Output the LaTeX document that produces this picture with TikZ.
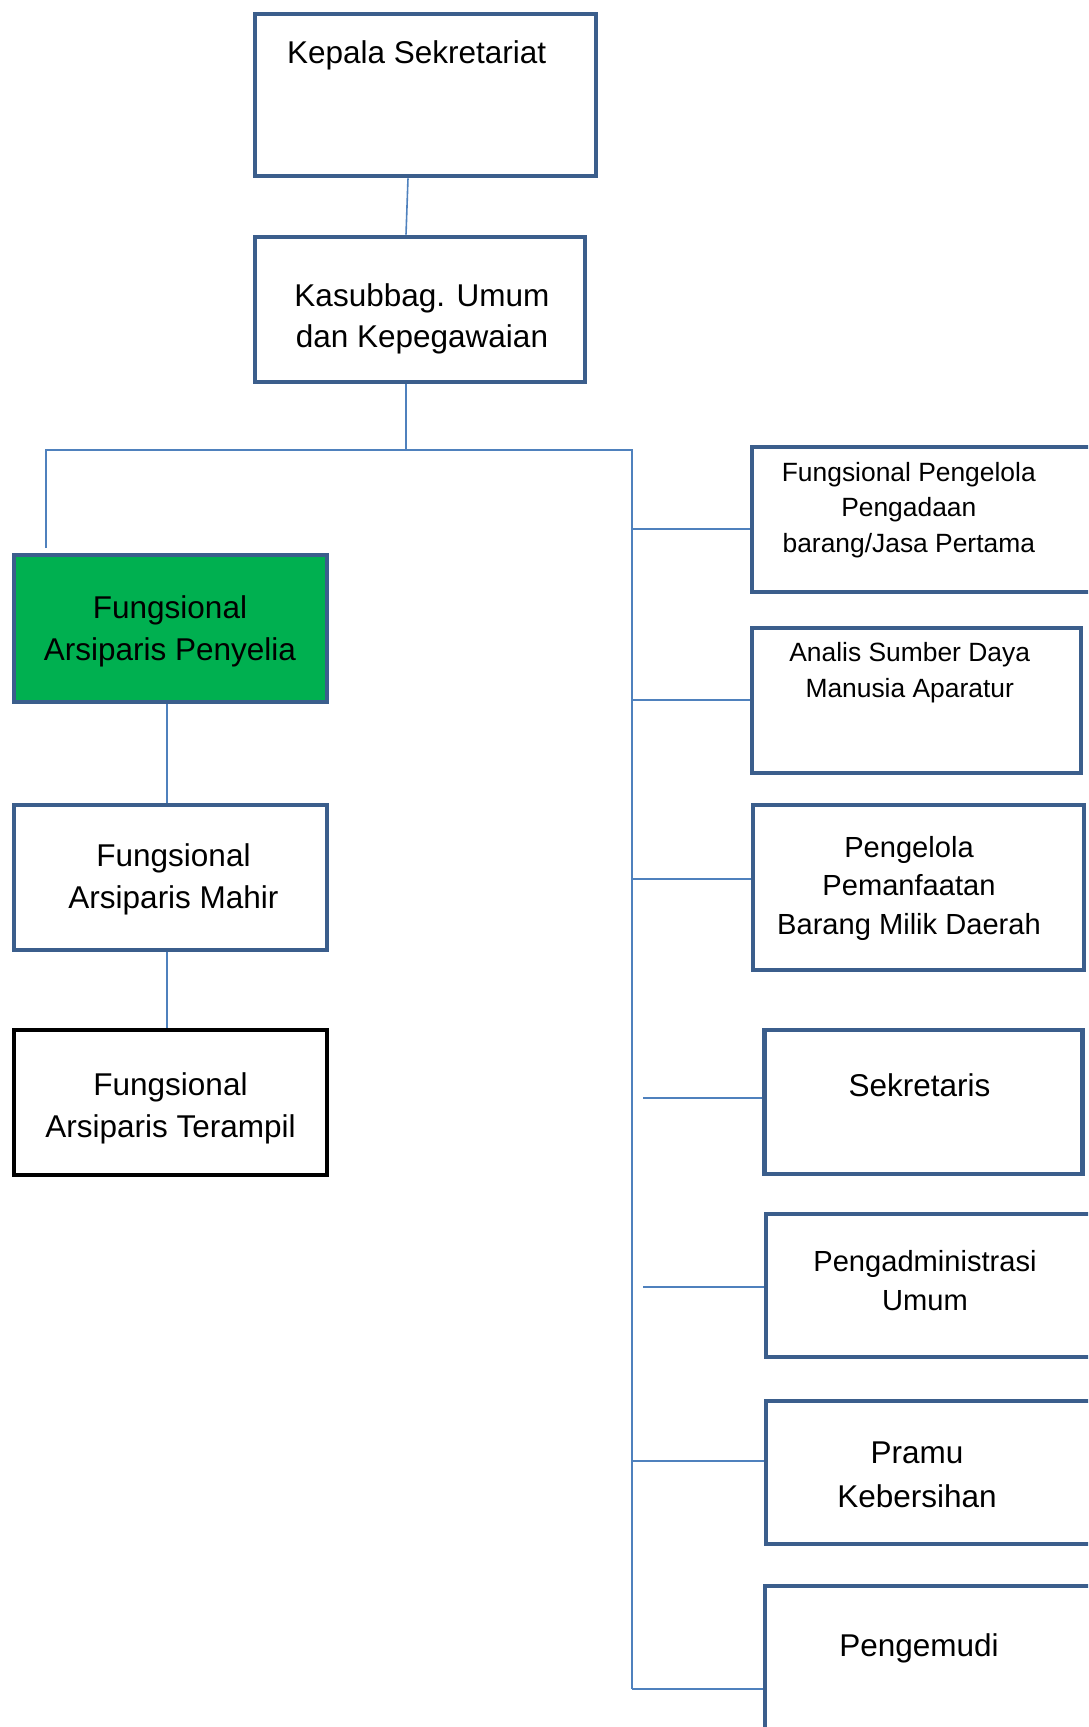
\documentclass[tikz,border=0pt]{standalone}
\usepackage{fontspec}
\setmainfont{Liberation Sans}
\definecolor{boxblue}{HTML}{3B5E8C}
\definecolor{linkblue}{HTML}{4F81BD}
\definecolor{officegreen}{HTML}{00B050}
\begin{document}
\begin{tikzpicture}[x=1pt,y=-1pt,
  box/.style={draw=boxblue, line width=4.6pt, rectangle, inner sep=0pt},
  link/.style={draw=linkblue, line width=1.6pt},
  txt/.style={anchor=north, inner sep=0pt, outer sep=0pt, align=center, text=black},
  fbig/.style={font=\fontsize{31.5}{42}\selectfont},
  fmid/.style={font=\fontsize{29.1}{38.5}\selectfont},
  fsmall/.style={font=\fontsize{26.4}{35.5}\selectfont}]
\useasboundingbox (0,0) rectangle (1088,1727);
\clip (0,0) rectangle (1088,1727);
% boxes
\node[box, minimum width=341pt, minimum height=162pt] (kepala) at (425.5,95) {};
\node[box, minimum width=330pt, minimum height=145pt] (kasub) at (420,309.5) {};
\node[box, fill=officegreen, minimum width=313pt, minimum height=147pt] (penyelia) at (170.5,628.5) {};
\node[box, minimum width=313pt, minimum height=145pt] (mahir) at (170.5,877.5) {};
\node[box, draw=black, minimum width=313pt, minimum height=145pt] (terampil) at (170.5,1102.5) {};
\node[box, minimum width=348pt, minimum height=145pt] (pbj) at (926,519.5) {};
\node[box, minimum width=329pt, minimum height=145pt] (sdm) at (916.5,700.5) {};
\node[box, minimum width=331pt, minimum height=165pt] (bmd) at (918.5,887.5) {};
\node[box, minimum width=318pt, minimum height=144pt] (sekr) at (923.5,1102) {};
\node[box, minimum width=334pt, minimum height=143pt] (adm) at (933,1285.5) {};
\node[box, minimum width=334pt, minimum height=143pt] (pramu) at (933,1472.5) {};
\node[box, minimum width=335pt, minimum height=174pt] (supir) at (932.5,1673) {};
% texts
\node[txt, fbig] (tkepala) at (416.7,40.3) {Kepala Sekretariat};
\node[txt, fbig, font=\fontsize{31.5}{41}\selectfont] (tkasub) at (422,283.3) {Kasubbag. Umum\\dan Kepegawaian};
\node[txt, fbig] (tpenyelia) at (170,595.3) {Fungsional\\Arsiparis Penyelia};
\node[txt, fbig] (tmahir) at (173.5,843.3) {Fungsional\\Arsiparis Mahir};
\node[txt, fbig] (tterampil) at (170.5,1072.3) {Fungsional\\Arsiparis Terampil};
\node[txt, fsmall] (tpbj) at (908.8,462) {Fungsional Pengelola\\Pengadaan\\barang/Jasa Pertama};
\node[txt, fsmall] (tsdm) at (909.7,642.7) {Analis Sumber Daya\\Manusia Aparatur};
\node[txt, fmid] (tbmd) at (909,836) {Pengelola\\Pemanfaatan\\Barang Milik Daerah};
\node[txt, fbig] (tsekr) at (919.5,1074) {Sekretaris};
\node[txt, fmid] (tadm) at (925,1250.7) {Pengadministrasi\\Umum};
\node[txt, fbig, font=\fontsize{31.5}{43.5}\selectfont] (tpramu) at (917,1442) {Pramu\\Kebersihan};
\node[txt, fbig] (tsupir) at (919,1634) {Pengemudi};
% connector points
\coordinate (busL) at (46,450);
\coordinate (busM) at (406,450);
\coordinate (busR) at (632,450);
\coordinate (leftEnd) at (46,548);
\coordinate (rightEnd) at (632,1689);
\coordinate (stubS) at (643,1098);
\coordinate (stubA) at (643,1287);
% connectors
\draw[link] (408,0 |- kepala.south) -- (406,0 |- kasub.north);
\draw[link] (406,0 |- kasub.south) -- (busM);
\draw[link] (leftEnd) -- (busL) -- (busR) -- (rightEnd);
\draw[link] (632,529) -- (632,529 -| pbj.west);
\draw[link] (632,700) -- (632,700 -| sdm.west);
\draw[link] (632,879) -- (632,879 -| bmd.west);
\draw[link] (stubS) -- (stubS -| sekr.west);
\draw[link] (stubA) -- (stubA -| adm.west);
\draw[link] (632,1461) -- (632,1461 -| pramu.west);
\draw[link] (rightEnd) -- (rightEnd -| supir.west);
\draw[link] (167,0 |- penyelia.south) -- (167,0 |- mahir.north);
\draw[link] (167,0 |- mahir.south) -- (167,0 |- terampil.north);
\end{tikzpicture}
\end{document}
